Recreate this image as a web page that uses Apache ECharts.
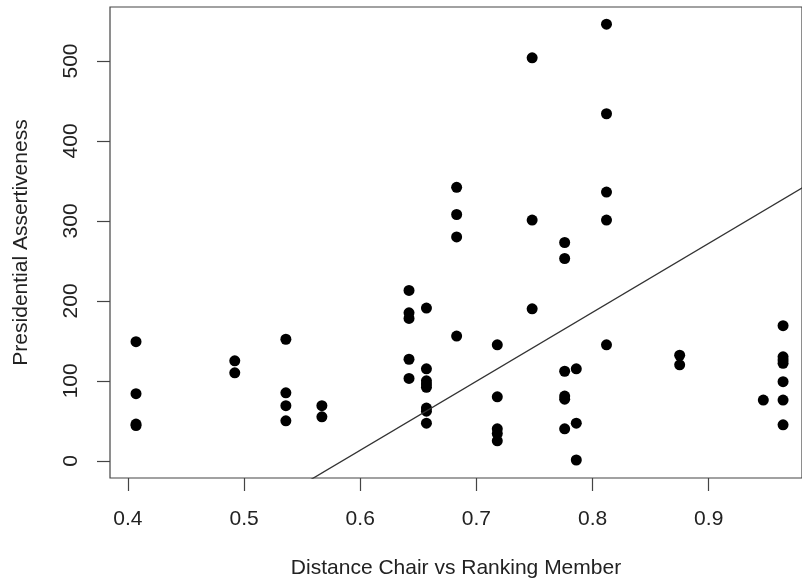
<!DOCTYPE html>
<html>
<head>
<meta charset="utf-8">
<script src="https://cdn.jsdelivr.net/npm/echarts@6/dist/echarts.min.js"></script>
<style>html,body{margin:0;padding:0;background:#fff}#c{width:802px;height:588px}</style>
</head>
<body>
<div id="c"></div>
<script>
// Distance Chair vs Ranking Member (x) and Presidential Assertiveness (y)
const distance = [
  0.407, 0.407, 0.407, 0.407,
  0.492, 0.492,
  0.536, 0.536, 0.536, 0.536,
  0.567, 0.567,
  0.642, 0.642, 0.642, 0.642, 0.642,
  0.657, 0.657, 0.657, 0.657, 0.657, 0.657, 0.657, 0.657,
  0.683, 0.683, 0.683, 0.683,
  0.718, 0.718, 0.718, 0.718, 0.718,
  0.748, 0.748, 0.748,
  0.776, 0.776, 0.776, 0.776, 0.776, 0.776,
  0.786, 0.786, 0.786,
  0.812, 0.812, 0.812, 0.812, 0.812,
  0.875, 0.875,
  0.947,
  0.964, 0.964, 0.964, 0.964, 0.964, 0.964, 0.964
];
const assertiveness = [
  149, 84, 46, 44,
  125, 110,
  152, 85, 69, 50,
  69, 55,
  213, 185, 178, 127, 103,
  191, 115, 100, 96, 92, 66, 62, 47,
  342, 308, 280, 156,
  145, 80, 40, 34, 25,
  504, 301, 190,
  273, 253, 112, 81, 77, 40,
  115, 47, 1,
  546, 434, 336, 301, 145,
  132, 120,
  76,
  169, 130, 126, 122, 99, 76, 45
];
const xTicks = [0.4, 0.5, 0.6, 0.7, 0.8, 0.9];
const yTicks = [0, 100, 200, 300, 400, 500];
// fitted regression line: y = intercept + slope * x
const fitIntercept = -504;
const fitSlope = 862;
const fitX = [0.5, 1.0];

const points = distance.map((d, i) => [d, assertiveness[i]]);
const fitLine = fitX.map(x => [x, fitIntercept + fitSlope * x]);

const font = 'Liberation Sans, Arial, Helvetica, sans-serif';
const chart = echarts.init(document.getElementById('c'));
chart.setOption({
  animation: false,
  backgroundColor: '#fff',
  grid: {
    left: 110, right: -2, top: 7, bottom: 110,
    show: true, borderColor: '#444', borderWidth: 1.2, backgroundColor: 'transparent'
  },
  xAxis: {
    type: 'value', min: 0.3846, max: 0.9803,
    name: 'Distance Chair vs Ranking Member',
    nameLocation: 'middle', nameGap: 80,
    nameTextStyle: { fontFamily: font, fontSize: 21, color: '#222' },
    axisLine: { show: false, onZero: false },
    splitLine: { show: false },
    axisTick: { show: true, inside: false, customValues: xTicks, length: 13, lineStyle: { color: '#444', width: 1.2 } },
    axisLabel: { customValues: xTicks, margin: 31, fontFamily: font, fontSize: 21, color: '#222',
      formatter: v => v.toFixed(1) }
  },
  yAxis: {
    type: 'value', min: -21.5, max: 567.5,
    name: 'Presidential Assertiveness',
    nameLocation: 'middle', nameGap: 78,
    nameTextStyle: { fontFamily: font, fontSize: 21, color: '#222' },
    axisLine: { show: false, onZero: false },
    splitLine: { show: false },
    axisTick: { show: true, inside: false, customValues: yTicks, length: 13, lineStyle: { color: '#444', width: 1.2 } },
    axisLabel: { customValues: yTicks, margin: 28, rotate: 90, fontFamily: font, fontSize: 21, color: '#222' }
  },
  series: [
    {
      type: 'scatter', data: points, symbol: 'circle', symbolSize: 11,
      itemStyle: { color: '#000', opacity: 1 }
    },
    {
      type: 'line', data: fitLine, symbol: 'none', clip: true,
      lineStyle: { color: '#333', width: 1.3 }
    }
  ]
});
</script>
</body>
</html>
